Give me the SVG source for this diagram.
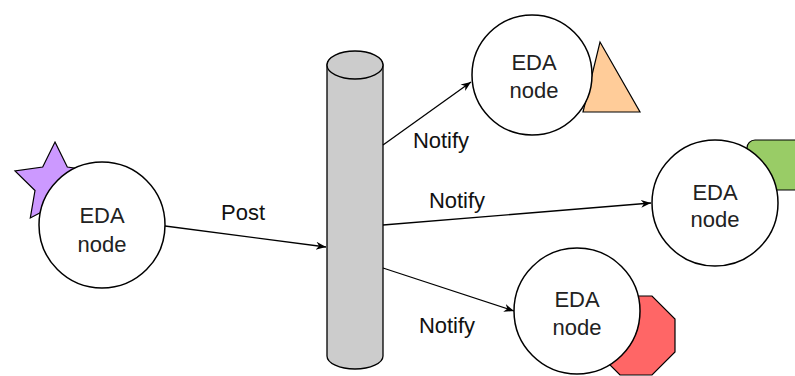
<svg xmlns="http://www.w3.org/2000/svg" width="795" height="376" viewBox="0 0 795 376">
<defs>
<style>
.c{fill:#fff;stroke:#000;stroke-width:1.5}
.s{stroke:#000;stroke-width:1.2}
.t{font-family:"Liberation Sans",Arial,sans-serif;font-size:22px;fill:#222;text-anchor:middle}
.l{font-family:"Liberation Sans",Arial,sans-serif;font-size:22px;fill:#111;text-anchor:middle}
.e{stroke:#000;stroke-width:1.3;fill:none}
</style>
<marker id="a" viewBox="0 0 10 10" refX="10" refY="5" markerWidth="10" markerHeight="10" markerUnits="userSpaceOnUse" orient="auto"><path d="M0,1 L10,5 L0,9 L3,5 Z" fill="#000"/></marker>
</defs>
<rect width="795" height="376" fill="#fff"/>
<g id="bus">
<path d="M327,65 L327,356 A28,13 0 0 0 383,356 L383,65 A28,13 0 0 0 327,65 Z" fill="#cccccc" stroke="#000" stroke-width="1.3"/>
<ellipse cx="355" cy="65" rx="28" ry="14" fill="#cccccc" stroke="#000" stroke-width="1.3"/>
</g>
<g id="node-left">
<polygon class="s" fill="#cc99ff" points="55,142 67.3,167 95,171 75,190.5 79.7,218 55,205 30.3,218 35,190.5 15,171 42.7,167"/>
<circle class="c" cx="102" cy="225" r="63"/>
<text class="t" x="102" y="223">EDA</text>
<text class="t" x="102" y="252">node</text>
</g>
<g id="node-top">
<polygon class="s" fill="#ffcc99" points="600,42 640,112 583,112"/>
<circle class="c" cx="532" cy="75" r="60"/>
<text class="t" x="534" y="70">EDA</text>
<text class="t" x="534" y="98">node</text>
</g>
<g id="node-right">
<rect class="s" fill="#99cc66" x="747" y="140" width="70" height="50" rx="8"/>
<circle class="c" cx="715" cy="203" r="63"/>
<text class="t" x="715" y="200">EDA</text>
<text class="t" x="715" y="227">node</text>
</g>
<g id="node-bottom">
<polygon class="s" fill="#ff6666" points="620,296 652,296 675,319 675,352 652,375 620,375 597,352 597,319"/>
<circle class="c" cx="577" cy="311" r="63"/>
<text class="t" x="577" y="307">EDA</text>
<text class="t" x="577" y="335">node</text>
</g>
<g id="connectors">
<line class="e" x1="165" y1="226" x2="326" y2="247" marker-end="url(#a)"/>
<line class="e" x1="383" y1="145" x2="471" y2="82" marker-end="url(#a)"/>
<line class="e" x1="383" y1="225" x2="651" y2="203" marker-end="url(#a)"/>
<line class="e" x1="383" y1="268" x2="514" y2="311" marker-end="url(#a)"/>
<text class="l" x="243" y="220">Post</text>
<text class="l" x="441" y="148">Notify</text>
<text class="l" x="457" y="208">Notify</text>
<text class="l" x="447" y="333">Notify</text>
</g>
</svg>
